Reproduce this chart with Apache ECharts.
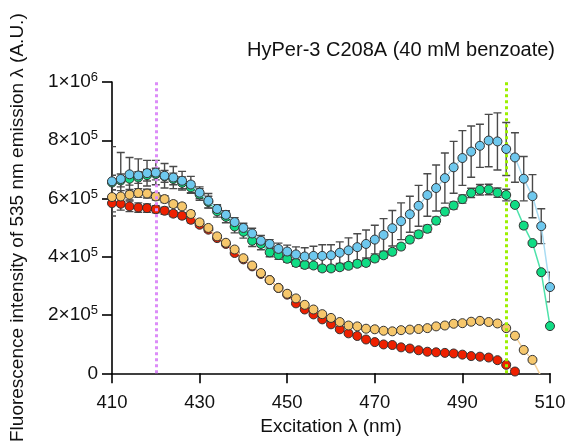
<!DOCTYPE html>
<html>
<head>
<meta charset="utf-8">
<script src="https://cdn.jsdelivr.net/npm/echarts@6/dist/echarts.min.js"></script>
<style>html,body{margin:0;padding:0;background:#fff}#c{width:572px;height:445px}</style>
</head>
<body>
<div id="c"></div>
<script>
const titleText = 'HyPer-3 C208A (40 mM benzoate)';
const xName = 'Excitation λ (nm)';
const yName = 'Fluorescence intensity of 535 nm emission λ (A.U.)';
const xTicks = [410, 430, 450, 470, 490, 510];
const yTicks = [0, 200000, 400000, 600000, 800000, 1000000];
const yTickLabels = ['0', '2×10{s|5}', '4×10{s|5}', '6×10{s|5}', '8×10{s|5}', '1×10{s|6}'];
const markerLines = [420, 500];

const wavelengths = [410,412,414,416,418,420,422,424,426,428,430,432,434,436,438,440,442,444,446,448,450,452,454,456,458,460,462,464,466,468,470,472,474,476,478,480,482,484,486,488,490,492,494,496,498,500,502,504,506,508,510];

// values in 10^6 A.U.
const blue = [.659,.667,.683,.679,.687,.689,.678,.672,.661,.648,.620,.592,.564,.544,.519,.499,.480,.455,.444,.427,.418,.408,.401,.403,.403,.405,.414,.422,.433,.444,.459,.475,.498,.522,.546,.575,.612,.636,.670,.707,.739,.761,.781,.799,.796,.770,.741,.668,.608,.505,.296];
const blueErr = [.119,.091,.058,.057,.044,.042,.042,.038,.032,.028,.020,.025,.015,.014,.015,.016,.018,.018,.015,.020,.022,.026,.030,.033,.038,.036,.037,.043,.046,.048,.049,.056,.061,.063,.062,.070,.073,.079,.086,.089,.094,.088,.074,.090,.098,.091,.085,.076,.074,.060,.051];
const green = [.655,.662,.668,.672,.680,.684,.676,.667,.654,.638,.614,.588,.556,.537,.504,.486,.455,.444,.415,.406,.393,.379,.372,.370,.360,.360,.364,.369,.376,.379,.394,.405,.417,.435,.459,.477,.496,.524,.555,.576,.598,.619,.630,.631,.620,.612,.578,.507,.447,.347,.162];
const greenErr = [.025,.022,.022,.020,.020,.020,.020,.020,.020,.020,.020,.020,.020,.020,.022,.022,.020,.020,.015,.015,.012,.012,.012,.010,.010,.010,.010,.010,.010,.010,.010,.010,.010,.010,.010,.012,.012,.012,.012,.012,.014,.016,.018,.018,.016,.020,.008,.010,.005,.005,.005];
const orange = [.605,.607,.613,.619,.617,.607,.598,.581,.573,.547,.518,.499,.470,.448,.425,.395,.370,.344,.320,.293,.273,.257,.235,.219,.203,.190,.176,.164,.161,.153,.151,.146,.144,.148,.150,.152,.155,.161,.164,.170,.172,.177,.180,.176,.171,.155,.129,.080,.046,-.012];
const orangeErr = [.025,.020,.018,.015,.015,.012,.012,.010,.010,.010,.008,.008,.006,.006,.005,.005,.005,.005,.005,.005,.004,.004,.004,.004,.004,.004,.004,.004,.004,.004,.004,.004,.004,.004,.004,.004,.004,.004,.004,.004,.004,.004,.004,.004,.004,.004,.004,.004,.004,0];
const red = [.584,.582,.573,.569,.567,.563,.558,.548,.541,.527,.510,.493,.464,.444,.413,.391,.367,.341,.320,.293,.270,.240,.219,.202,.185,.168,.151,.137,.128,.116,.107,.099,.097,.089,.085,.079,.074,.072,.070,.068,.064,.059,.057,.054,.045,.029,.006,-.030];
const redErr = [.030,.022,.018,.016,.014,.012,.012,.010,.010,.010,.008,.008,.006,.006,.005,.005,.005,.005,.005,.005,.004,.004,.004,.004,.004,.004,.004,.004,.004,.004,.004,.004,.004,.004,.004,.004,.004,.004,.004,.004,.004,.004,.004,.004,.004,.004,.004,0];

const SCALE = 1e6;
function pts(vals) { return vals.map((v, i) => [wavelengths[i], v * SCALE]); }
function errPts(vals, errs) {
  return vals.map((v, i) => [wavelengths[i], v * SCALE, errs[i] * SCALE]).filter(d => d[1] > 0 && d[2] > 0);
}

const font = 'Arial, "Liberation Sans", sans-serif';

function errorSeries(vals, errs, z) {
  return {
    type: 'custom',
    z: z,
    clip: true,
    silent: true,
    encode: { x: 0, y: 1 },
    data: errPts(vals, errs),
    renderItem: function (params, api) {
      const x = api.value(0), y = api.value(1), e = api.value(2);
      const t = api.coord([x, y + e]);
      const b = api.coord([x, y - e]);
      const w = 4;
      const st = { stroke: '#4a4a4a', lineWidth: 1.4, fill: null };
      return {
        type: 'group',
        children: [
          { type: 'line', shape: { x1: t[0], y1: t[1], x2: b[0], y2: b[1] }, style: st },
          { type: 'line', shape: { x1: t[0] - w, y1: t[1], x2: t[0] + w, y2: t[1] }, style: st },
          { type: 'line', shape: { x1: b[0] - w, y1: b[1], x2: b[0] + w, y2: b[1] }, style: st }
        ]
      };
    }
  };
}

function lineSeries(vals, fill, lineColor, z) {
  return {
    type: 'line',
    z: z,
    clip: true,
    data: pts(vals),
    symbol: 'circle',
    symbolSize: 9,
    showAllSymbol: true,
    smooth: false,
    animation: false,
    itemStyle: { color: fill, borderColor: '#333', borderWidth: 1 },
    lineStyle: { color: lineColor, width: 1.5 }
  };
}

const chart = echarts.init(document.getElementById('c'), null, { renderer: 'canvas' });
chart.setOption({
  animation: false,
  backgroundColor: '#fff',
  title: {
    text: titleText,
    right: 12,
    top: 35,
    textStyle: { fontFamily: font, fontSize: 20, fontWeight: 'normal', color: '#111' }
  },
  grid: { left: 111, top: 82, right: 22, bottom: 71, containLabel: false },
  xAxis: {
    type: 'value',
    min: 410, max: 510, interval: 20,
    name: xName,
    nameLocation: 'middle',
    nameGap: 43,
    nameTextStyle: { fontFamily: font, fontSize: 19, color: '#111' },
    axisLine: { show: true, lineStyle: { color: '#000', width: 1.6 } },
    axisTick: { show: true, inside: false, length: 10, lineStyle: { color: '#000', width: 1.6 } },
    axisLabel: { margin: 20, fontFamily: font, fontSize: 18.5, color: '#111',
      formatter: function (v) { return xTicks.indexOf(v) >= 0 ? String(v) : ''; } },
    splitLine: { show: false }
  },
  yAxis: {
    type: 'value',
    min: 0, max: 1000000, interval: 200000,
    name: yName,
    nameLocation: 'middle',
    nameGap: 85,
    nameTextStyle: { fontFamily: font, fontSize: 19, color: '#111' },
    axisLine: { show: true, lineStyle: { color: '#000', width: 1.6 } },
    axisTick: { show: true, inside: false, length: 10, lineStyle: { color: '#000', width: 1.6 } },
    axisLabel: {
      margin: 14, fontFamily: font, fontSize: 19, color: '#111',
      formatter: function (v) { const i = yTicks.indexOf(v); return i >= 0 ? yTickLabels[i] : ''; },
      rich: { s: { fontFamily: font, fontSize: 13, color: '#111', verticalAlign: 'top', padding: [0, 0, 9, 0] } }
    },
    splitLine: { show: false }
  },
  series: [
    {
      type: 'line', data: [], z: 1, silent: true,
      markLine: {
        silent: true, symbol: 'none', animation: false,
        label: { show: false },
        data: [
          { xAxis: markerLines[0], lineStyle: { color: '#dc8cf8', width: 3, type: [3, 3] } },
          { xAxis: markerLines[1], lineStyle: { color: '#9cf000', width: 3, type: [3, 3] } }
        ]
      }
    },
    errorSeries(red, redErr, 2),
    errorSeries(orange, orangeErr, 2),
    errorSeries(green, greenErr, 2),
    errorSeries(blue, blueErr, 2),
    lineSeries(red, '#ee2000', '#f08a70', 3),
    lineSeries(orange, '#f6c76c', '#f5d29c', 4),
    lineSeries(green, '#10dc84', '#4ee2aa', 5),
    lineSeries(blue, '#6ec8ee', '#a9dcf3', 6)
  ]
});
</script>
</body>
</html>
